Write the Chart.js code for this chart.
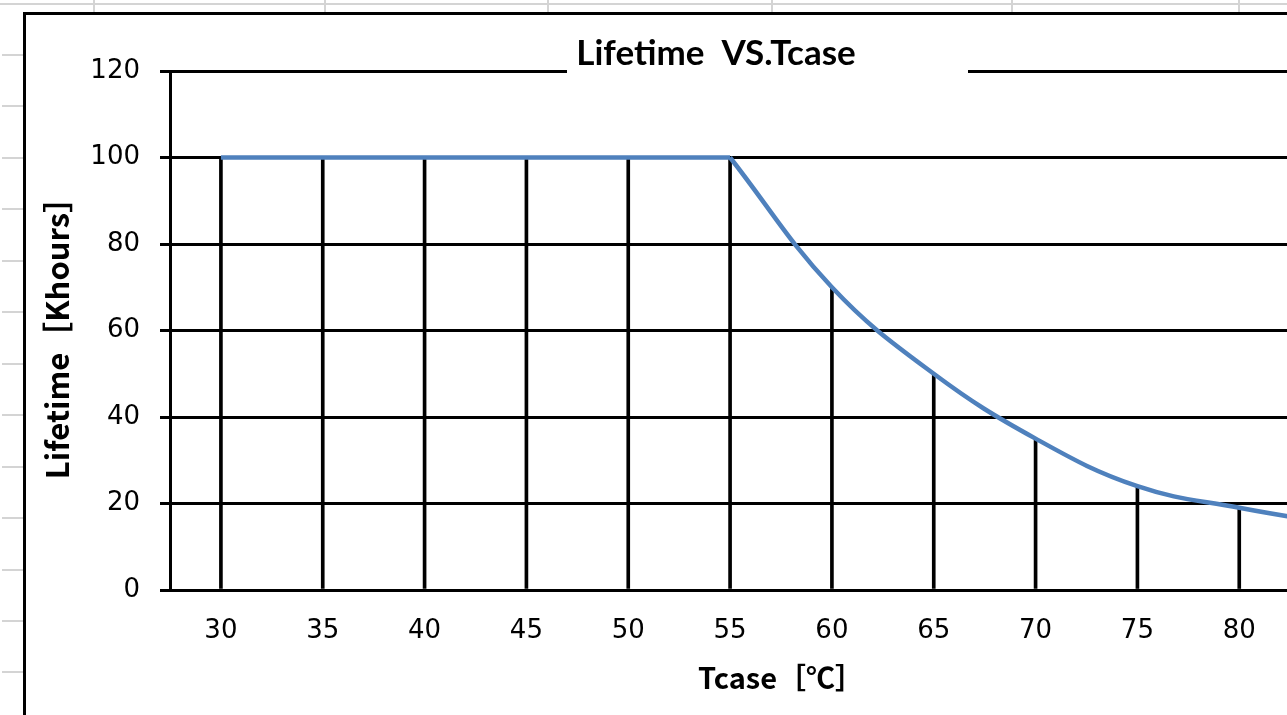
<!DOCTYPE html>
<html>
<head>
<meta charset="utf-8">
<script src="https://cdn.jsdelivr.net/npm/chart.js@4/dist/chart.umd.min.js"></script>
<style>
  html, body { margin: 0; padding: 0; background: #fff; overflow: hidden; }
  body { width: 1287px; height: 715px; position: relative; }
  .sheet { position: absolute; background: #d4d4d4; }
  #box { position: absolute; left: 23px; top: 12px; width: 1420px; height: 720px;
         border: 3px solid #000; background: #fff; }
  #chart { display: block; }
</style>
</head>
<body>
<div id="box"><canvas id="chart" width="1420" height="700"></canvas></div>
<script>
// data
const TCASE = ['30', '35', '40', '45', '50', '55', '60', '65', '70', '75', '80', '85'];
const LIFETIME = [100, 100, 100, 100, 100, 100, 70, 50, 35, 24, 19, 15];
const KNEE = '55';   // flat up to here, curve after
const Y_MIN = 0;
const Y_MAX = 120;
const Y_STEP = 20;

// faint spreadsheet grid behind the chart
function sheetLine(x, y, w, h) {
  const d = document.createElement('div');
  d.className = 'sheet';
  d.style.left = x + 'px';
  d.style.top = y + 'px';
  d.style.width = w + 'px';
  d.style.height = h + 'px';
  document.body.insertBefore(d, document.body.firstChild);
}
sheetLine(0, 3, 1287, 2);
[93, 324, 547, 771, 1011, 1238].forEach(x => sheetLine(x, 0, 2, 12));
for (let k = 0; k < 13; k++) sheetLine(2, Math.round(54 + 51.45 * k), 21, 2);

const kneeIdx = TCASE.indexOf(KNEE);
const flatPart = LIFETIME.map((v, i) => i <= kneeIdx ? v : null);
const curvePart = LIFETIME.map((v, i) => i >= kneeIdx ? v : null);

const axisTitleFont = { family: '"Noto Sans CJK JP", "DejaVu Sans", sans-serif', weight: 'bold' };
const tickFont = { family: '"DejaVu Sans", sans-serif', size: 26 };

// title sits in a white box on top of the 120 gridline
const titleBox = {
  id: 'titleBox',
  afterDatasetsDraw(chart) {
    const ctx = chart.ctx;
    ctx.save();
    ctx.fillStyle = '#fff';
    ctx.fillRect(541, 10, 401, 52);
    ctx.fillStyle = '#000';
    ctx.font = 'bold 35px Lato, "DejaVu Sans", sans-serif';
    ctx.textAlign = 'center';
    ctx.textBaseline = 'alphabetic';
    ctx.fillText('Lifetime  VS.Tcase', 690, 50);
    ctx.restore();
  }
};

new Chart(document.getElementById('chart'), {
  data: {
    labels: TCASE,
    datasets: [
      {
        type: 'line',
        data: flatPart,
        borderColor: '#4f81bd',
        borderWidth: 4.5,
        pointRadius: 0,
        tension: 0,
        order: 1
      },
      {
        type: 'line',
        data: curvePart,
        borderColor: '#4f81bd',
        borderWidth: 4.5,
        pointRadius: 0,
        tension: 0.4,
        order: 1
      },
      {
        // drop lines from each point to the axis
        type: 'bar',
        data: LIFETIME,
        backgroundColor: '#000',
        barThickness: 3,
        order: 2
      }
    ]
  },
  options: {
    responsive: false,
    animation: false,
    layout: { padding: { top: 56, right: 54, left: 0, bottom: 0 } },
    plugins: {
      legend: { display: false },
      tooltip: { enabled: false }
    },
    scales: {
      x: {
        offset: true,
        grid: { display: false, drawTicks: false },
        border: { display: true, color: '#000', width: 3 },
        ticks: { color: '#000', font: tickFont, padding: 26, maxRotation: 0 },
        title: {
          display: true,
          text: 'Tcase［℃］',
          color: '#000',
          font: Object.assign({ size: 29 }, axisTitleFont),
          padding: { top: 0, bottom: 20 }
        },
        afterFit(scale) { scale.height = 125; }
      },
      y: {
        min: Y_MIN,
        max: Y_MAX,
        grid: { color: '#000', lineWidth: 3, tickLength: 10, tickColor: '#000', tickWidth: 3 },
        border: { display: true, color: '#000', width: 3 },
        ticks: { stepSize: Y_STEP, color: '#000', font: tickFont, padding: 20 },
        title: {
          display: true,
          text: 'Lifetime［Khours］',
          color: '#000',
          font: Object.assign({ size: 31 }, axisTitleFont),
          padding: { top: 13, bottom: 0 }
        },
        afterFit(scale) { scale.width = 144; }
      }
    }
  },
  plugins: [titleBox]
});
</script>
</body>
</html>
